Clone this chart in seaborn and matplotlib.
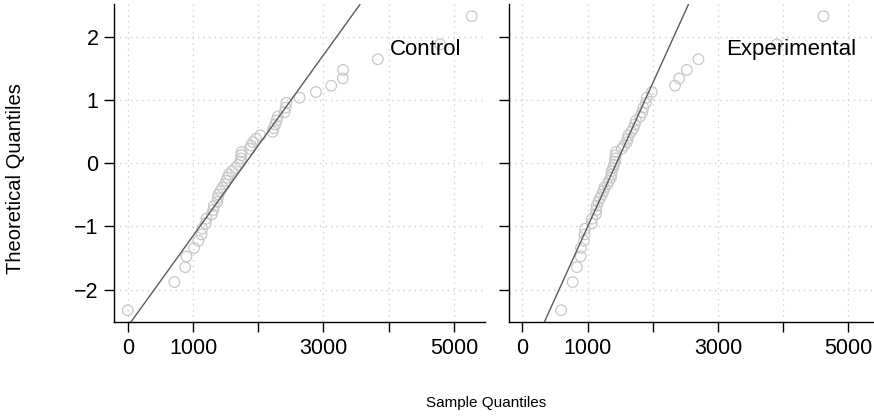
import numpy as np
import pandas as pd
import matplotlib
matplotlib.use("Agg")
import matplotlib.pyplot as plt
import seaborn as sns
from statistics import NormalDist

# sorted sample values (n = 50 per group)
control_values = [0, 715, 880, 900, 1017, 1083, 1130, 1140, 1195, 1205,
                  1290, 1310, 1320, 1370, 1380, 1390, 1420, 1450, 1490, 1510,
                  1530, 1552, 1598, 1649, 1690, 1725, 1736, 1740, 1745, 1870,
                  1890, 1920, 1965, 2030, 2220, 2235, 2260, 2280, 2300, 2404,
                  2420, 2430, 2634, 2884, 3119, 3297, 3300, 3833, 4787, 5272]
experimental_values = [595, 773, 837, 896, 900, 945, 955, 962, 1064, 1070,
                       1130, 1135, 1140, 1166, 1192, 1220, 1245, 1260, 1304, 1330,
                       1361, 1366, 1371, 1390, 1407, 1420, 1427, 1432, 1437, 1525,
                       1560, 1601, 1615, 1626, 1670, 1703, 1725, 1744, 1806, 1840,
                       1856, 1893, 1908, 1985, 2342, 2404, 2522, 2700, 3903, 4617]
groups = ["Control", "Experimental"]

x_ticks = [0, 1000, 2000, 3000, 4000, 5000]
x_ticklabels = ["0", "1000", "", "3000", "", "5000"]
y_ticks = [-2, -1, 0, 1, 2]
y_ticklabels = ["\u22122", "\u22121", "0", "1", "2"]


def qq_frame(values, name):
    n = len(values)
    probs = [(i - 0.5) / n for i in range(1, n + 1)]
    theo = [NormalDist().inv_cdf(p) for p in probs]
    return pd.DataFrame({"group": name, "sample": sorted(values), "theoretical": theo})


df = pd.concat([qq_frame(control_values, groups[0]),
                qq_frame(experimental_values, groups[1])], ignore_index=True)

sns.set_style("white")
plt.rcParams["font.family"] = ["Liberation Sans", "DejaVu Sans"]
plt.rcParams["text.color"] = "black"
plt.rcParams["xtick.color"] = "black"
plt.rcParams["ytick.color"] = "black"

fig = plt.figure(figsize=(8.74, 4.16), dpi=100)
W, H = 874, 416
panels = [(114, 485.5), (508.5, 880)]

xmax = max(control_values + experimental_values)
xmin = min(control_values + experimental_values)
pad = 0.04 * (xmax - xmin)
ymax = df["theoretical"].abs().max() * 1.08

for k, name in enumerate(groups):
    left, right = panels[k]
    ax = fig.add_axes([left / W, 1 - 322 / H, (right - left) / W, 317.6 / H])
    sub = df[df["group"] == name]

    ax.grid(True, linestyle=(0, (1, 3)), color="#cfcfcf", linewidth=1)
    ax.set_axisbelow(True)

    sns.scatterplot(data=sub, x="sample", y="theoretical", ax=ax,
                    marker="o", s=58, facecolors="none",
                    edgecolor="#c8c8c8", linewidth=0.9, legend=False)

    # reference line through the quartiles
    q1, q3 = np.quantile(sub["sample"], [0.25, 0.75])
    z1, z3 = NormalDist().inv_cdf(0.25), NormalDist().inv_cdf(0.75)
    ax.axline((q1, z1), (q3, z3), color="#5a5a5a", linewidth=1)

    ax.set_xlim(xmin - pad, xmax + pad)
    ax.set_ylim(-ymax, ymax)
    ax.set_xticks(x_ticks)
    ax.set_xticklabels(x_ticklabels)
    ax.set_yticks(y_ticks)
    if k == 0:
        ax.set_yticklabels(y_ticklabels)
    else:
        ax.set_yticklabels([])
    ax.tick_params(direction="out", length=7.2, width=1, labelsize=15.5,
                   color="black", labelcolor="black", pad=4,
                   bottom=True, left=True)
    ax.set_xlabel("")
    ax.set_ylabel("")
    sns.despine(ax=ax)
    for sp in ["left", "bottom"]:
        ax.spines[sp].set_color("black")
        ax.spines[sp].set_linewidth(1)

    ax.text(5120, 1.71, name, ha="right", va="baseline", fontsize=16, color="black")

fig.text(16 / W, 1 - 179 / H, "Theoretical Quantiles", rotation=90,
         ha="center", va="center", fontsize=14.5, color="black")
fig.text(486 / W, 1 - 403 / H, "Sample Quantiles", ha="center", va="center",
         fontsize=11, color="black")

fig.savefig("out.png", dpi=100)
